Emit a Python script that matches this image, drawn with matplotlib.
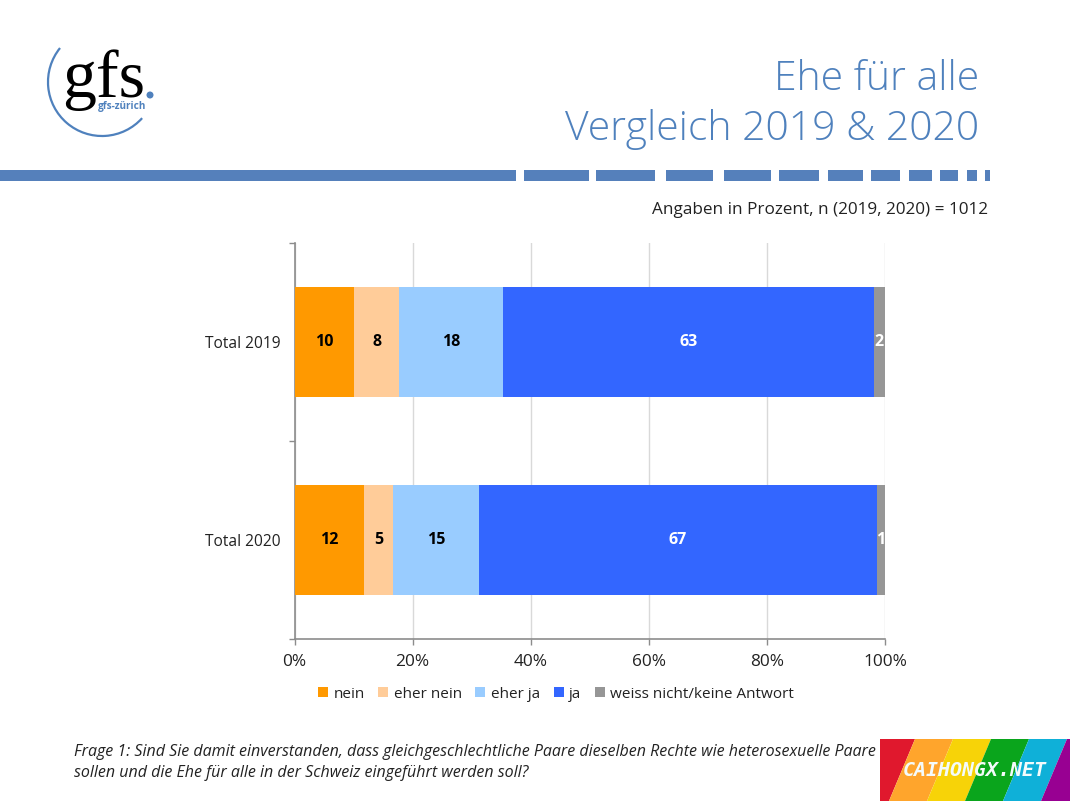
import numpy as np
import matplotlib
matplotlib.use("Agg")
import matplotlib.pyplot as plt
from matplotlib.patches import Arc, Circle, Polygon, Rectangle

plt.rcParams["font.family"] = ["Open Sans", "DejaVu Sans"]

# chart data
years = ["Total 2019", "Total 2020"]
answers = ["nein", "eher nein", "eher ja", "ja", "weiss nicht/keine Antwort"]
nein = [10.1, 11.8]
eher_nein = [7.6, 4.9]
eher_ja = [17.6, 14.6]
ja = [62.8, 67.3]
keine_antwort = [1.9, 1.4]
x_ticks = [0, 20, 40, 60, 80, 100]

series = [nein, eher_nein, eher_ja, ja, keine_antwort]
colors = ["#ff9900", "#ffcc99", "#99ccff", "#3366ff", "#969696"]
label_colors = ["black", "black", "black", "white", "white"]

BLUE = "#4f81bd"
BAND = "#5580bb"
GREY = "#8c8c8c"

fig = plt.figure(figsize=(10.8, 8.1), dpi=100)

# full page layer in pixels for the slide furniture
page = fig.add_axes([0, 0, 1, 1])
page.set_xlim(0, 1080)
page.set_ylim(810, 0)
page.axis("off")

# chart
ax = fig.add_axes([294.5 / 1080, 1 - 639 / 810, 590.5 / 1080, 396 / 810])
y = np.arange(len(years))
left = np.zeros(len(years))
for vals, name, col, lab_col in zip(series, answers, colors, label_colors):
    bars = ax.barh(y, vals, left=left, height=0.56, color=col, label=name, zorder=3)
    ax.bar_label(bars, labels=[f"{v:.0f}" for v in vals], label_type="center",
                 color=lab_col, fontsize=11.5, fontweight="bold", zorder=4)
    left = left + np.array(vals)

ax.set_xlim(0, 100)
ax.set_ylim(1.5, -0.5)
ax.set_xticks(x_ticks)
ax.set_xticklabels([f"{t}%" for t in x_ticks])
ax.set_yticks(y)
ax.set_yticklabels(years)
ax.set_yticks([-0.5, 0.5, 1.5], minor=True)
ax.tick_params(axis="y", which="major", length=0, pad=10, labelsize=11.2, labelcolor="#222222")
ax.tick_params(axis="y", which="minor", length=4, color=GREY, width=1)
ax.tick_params(axis="x", length=4, color=GREY, width=1, pad=7, labelsize=12.4, labelcolor="#222222")
ax.grid(axis="x", color="#d9d9d9", lw=1, zorder=0)
ax.set_axisbelow(True)
for side in ["top", "right"]:
    ax.spines[side].set_visible(False)
for side in ["left", "bottom"]:
    ax.spines[side].set_color(GREY)
    ax.spines[side].set_linewidth(1.2)

ax.legend(loc="center", bbox_to_anchor=(556 / 1080, 1 - 694 / 810),
          bbox_transform=fig.transFigure, ncol=5, frameon=False, fontsize=11,
          handlelength=0.65, handleheight=0.65, handletextpad=0.35,
          columnspacing=0.9, labelcolor="#222222")

# title
page.text(979, 79, "Ehe für alle", ha="right", va="center", fontsize=29.4,
          fontweight="light", color=BLUE)
page.text(979, 129, "Vergleich 2019 & 2020", ha="right", va="center", fontsize=29.4,
          fontweight="light", color=BLUE)

# dashed band under the title
band_edges = [(0, 516), (524, 589), (596, 655), (666, 713), (724, 771), (779, 819),
              (828, 863), (871, 900), (909, 932), (940, 958), (967, 977), (985, 990)]
for x0, x1 in band_edges:
    page.add_patch(Rectangle((x0, 170), x1 - x0, 11, color=BAND, lw=0))

page.text(988, 210, "Angaben in Prozent, n (2019, 2020) = 1012", ha="right", va="center",
          fontsize=12.3, color="#222222")

# logo
page.add_patch(Arc((102, 82), 108, 108, theta1=42, theta2=219, color=BLUE, lw=1.6))
page.text(62, 97, "gfs", family="Liberation Serif", fontsize=49, color="black", va="baseline")
page.add_patch(Circle((150, 95), 3.5, color=BLUE, lw=0))
page.text(98, 107, "gfs-zürich", fontsize=7.2, fontweight="bold", color=BLUE, va="center")

# question
page.text(74, 752, "Frage 1: Sind Sie damit einverstanden, dass gleichgeschlechtliche Paare "
          "dieselben Rechte wie heterosexuelle Paare", style="italic", fontsize=11.51,
          color="#222222", va="center")
page.text(74, 773, "sollen und die Ehe für alle in der Schweiz eingeführt werden soll?",
          style="italic", fontsize=11.51, color="#222222", va="center")

# watermark
frame = Rectangle((879.5, 739), 190.5, 62, color="none", lw=0)
page.add_patch(frame)
stripe_colors = ["#e0182d", "#ffa52c", "#f7d308", "#0aa51c", "#0fb0d8", "#980092"]
for i, col in enumerate(stripe_colors):
    x0 = 851 + i * 38
    poly = Polygon([(x0, 801), (x0 + 38, 801), (x0 + 38 + 26, 739), (x0 + 26, 739)], color=col, lw=0)
    page.add_patch(poly)
    poly.set_clip_path(frame)
page.text(903, 770, "CAIHONGX.NET", family="DejaVu Sans Mono", style="italic", fontsize=14.4,
          fontweight="bold", color="#f4fbfb", va="center")

fig.savefig("out.png", dpi=100, facecolor="white")
